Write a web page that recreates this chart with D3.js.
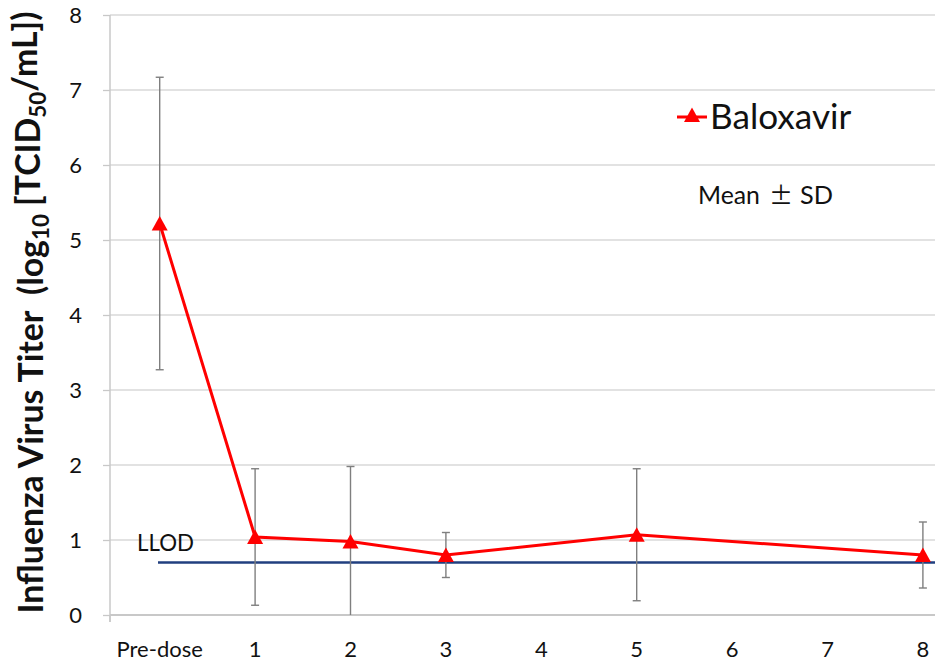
<!DOCTYPE html>
<html>
<head>
<meta charset="utf-8">
<script src="https://cdn.jsdelivr.net/npm/d3@7"></script>
<style>
  html, body { margin: 0; padding: 0; background: #fff; }
  svg { display: block; font-family: Lato, "Open Sans", sans-serif; }
</style>
</head>
<body>
<svg id="chart" width="935" height="667"></svg>
<script>
// Categories on the time axis (days after dosing)
const categories = ["Pre-dose", "1", "2", "3", "4", "5", "6", "7", "8"];
// Sampled time points and Baloxavir virus titer (mean, SD)
const timePoints = ["Pre-dose", "1", "2", "3", "5", "8"];
const meanTiter = [5.22, 1.04, 0.98, 0.80, 1.07, 0.80];
const sdTiter = [1.95, 0.91, 1.00, 0.30, 0.88, 0.44];
// Lower limit of detection
const llod = 0.70;
const yTicks = [0, 1, 2, 3, 4, 5, 6, 7, 8];

const svg = d3.select("#chart");
const W = 935, H = 667;
const plotLeft = 110, plotTop = 15, plotBottom = 615;

const x = d3.scaleBand().domain(categories).range([plotLeft + 2, plotLeft + 2 + 9 * 95.4]);
const cx = c => x(c) + x.bandwidth() / 2;
const y = d3.scaleLinear().domain([0, 8]).range([plotBottom, plotTop]);

// Shrink or grow a text's font so it spans the given width
function fitWidth(sel, target) {
  const node = sel.node();
  const fs = parseFloat(sel.style("font-size"));
  const w = node.getBBox().width;
  if (w > 0) sel.style("font-size", (fs * target / w) + "px");
}

// Horizontal gridlines
svg.append("g")
  .selectAll("line")
  .data(yTicks.filter(t => t > 0))
  .join("line")
  .attr("x1", plotLeft).attr("x2", W)
  .attr("y1", d => y(d)).attr("y2", d => y(d))
  .attr("stroke", "#d9d9d9").attr("stroke-width", 1.3);

// Y axis
const yAxis = svg.append("g")
  .attr("transform", `translate(${plotLeft},0)`)
  .call(d3.axisLeft(y).tickValues(yTicks).tickSize(7).tickPadding(21).tickFormat(d3.format("d")));
yAxis.select(".domain").attr("stroke", "#c8c8c8").attr("stroke-width", 1.5)
  .attr("d", `M0,${plotTop}V${plotBottom + 7}`);
yAxis.selectAll(".tick line").attr("stroke", "#c8c8c8").attr("stroke-width", 1.3);
yAxis.selectAll(".tick text").attr("fill", "#111").style("font-size", "22px")
  .style("font-family", "Lato, sans-serif");

// X axis
const xAxis = svg.append("g")
  .attr("transform", `translate(0,${plotBottom})`)
  .call(d3.axisBottom(x).tickSize(0).tickPadding(26));
xAxis.select(".domain").attr("stroke", "#c8c8c8").attr("stroke-width", 2)
  .attr("d", `M${plotLeft},0H${W}`);
xAxis.selectAll(".tick text").attr("fill", "#111").style("font-size", "22px")
  .style("font-family", "Lato, sans-serif");
svg.append("line").attr("x1", plotLeft).attr("x2", plotLeft)
  .attr("y1", plotBottom).attr("y2", plotBottom + 7)
  .attr("stroke", "#c8c8c8").attr("stroke-width", 1.5);

// LLOD reference line
svg.append("line")
  .attr("x1", 158).attr("x2", W)
  .attr("y1", y(llod)).attr("y2", y(llod))
  .attr("stroke", "#213f7f").attr("stroke-width", 2.5);
const llodLabel = svg.append("text")
  .attr("x", 137).attr("y", y(llod) - 12)
  .attr("fill", "#111").style("font-size", "22px")
  .text("LLOD");
fitWidth(llodLabel, 57);

const pts = timePoints.map((t, i) => ({ t, m: meanTiter[i], sd: sdTiter[i] }));

// Error bars (mean ± SD), clipped at zero
const eb = svg.append("g").attr("stroke", "#7f7f7f").attr("stroke-width", 1.4);
pts.forEach(p => {
  const lo = Math.max(0, p.m - p.sd), hi = p.m + p.sd;
  const xc = cx(p.t);
  eb.append("line").attr("x1", xc).attr("x2", xc).attr("y1", y(lo)).attr("y2", y(hi));
  eb.append("line").attr("x1", xc - 4).attr("x2", xc + 4).attr("y1", y(hi)).attr("y2", y(hi));
  if (p.m - p.sd > 0)
    eb.append("line").attr("x1", xc - 4).attr("x2", xc + 4).attr("y1", y(lo)).attr("y2", y(lo));
});

// Mean line
svg.append("path")
  .datum(pts)
  .attr("fill", "none").attr("stroke", "#ff0000").attr("stroke-width", 3)
  .attr("d", d3.line().x(p => cx(p.t)).y(p => y(p.m)));

// Triangle marker centred on its bounding box
const tri = "M0,-7.5L8,7L-8,7Z";
svg.append("g").selectAll("path")
  .data(pts)
  .join("path")
  .attr("d", tri)
  .attr("transform", p => `translate(${cx(p.t)},${y(p.m)})`)
  .attr("fill", "#ff0000");

// Legend
svg.append("line").attr("x1", 677).attr("x2", 707).attr("y1", 117).attr("y2", 117)
  .attr("stroke", "#ff0000").attr("stroke-width", 3);
svg.append("path").attr("d", tri).attr("transform", "translate(692,115)").attr("fill", "#ff0000");
const legText = svg.append("text").attr("x", 710).attr("y", 129)
  .attr("fill", "#111").style("font-size", "34px").text("Baloxavir");
fitWidth(legText, 142);

// Statistics note
const note = svg.append("g").attr("fill", "#111").style("font-size", "24px");
const meanTxt = note.append("text").attr("x", 698).attr("y", 204).text("Mean");
fitWidth(meanTxt, 62);
note.append("text").attr("x", 781).attr("y", 204).attr("text-anchor", "middle")
  .style("font-family", "'Noto Sans CJK JP', sans-serif").style("font-size", "24px")
  .text("\u00B1");
const sdTxt = note.append("text").attr("x", 800).attr("y", 204).text("SD");
fitWidth(sdTxt, 33);

// Y axis title with subscripts
const title = svg.append("text")
  .attr("transform", `translate(43,${(10 + 615) / 2}) rotate(-90)`)
  .attr("text-anchor", "middle")
  .style("white-space", "pre")
  .attr("fill", "#111").style("font-size", "30px").style("font-weight", "bold");
title.append("tspan").text("Influenza Virus Titer  (log");
title.append("tspan").text("10").style("font-size", "0.66em").attr("dy", "0.25em");
title.append("tspan").text(" [TCID").attr("dy", "-0.25em");
title.append("tspan").text("50").style("font-size", "0.66em").attr("dy", "0.25em");
title.append("tspan").text("/mL])").attr("dy", "-0.25em");
fitWidth(title, 602);
</script>
</body>
</html>
